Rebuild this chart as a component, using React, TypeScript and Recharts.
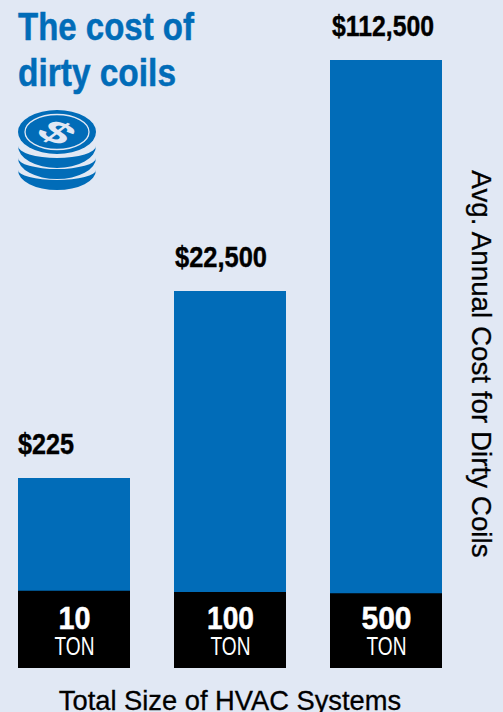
import React from "react";
import { BarChart, Bar, XAxis, YAxis, LabelList, Label } from "recharts";

const systemTons = ["10", "100", "500"];
const annualCost = [225, 22500, 112500];
const baseShare = [12.7, 12.5, 12.3];
const costLabels = ["$225", "$22,500", "$112,500"];
const titleLines = ["The cost of", "dirty coils"];

const rows = systemTons.map((tons, i) => ({
  tons,
  cost: annualCost[i],
  base: baseShare[i],
  costLabel: costLabels[i],
}));

const BLUE = "#016cb8";
const PAPER = "#e1e8f4";
const SANS = "'Liberation Sans', Arial, sans-serif";

// Condensed set widths for the headline type, in px per line.
const costLabelWidths: Record<string, number> = { "$225": 56, "$22,500": 92, "$112,500": 102 };
const costLabelInsets: Record<string, number> = { "$225": 0, "$22,500": 1, "$112,500": 2 };
const tonWidths: Record<string, number> = { "10": 32, "100": 47, "500": 50 };
const titleWidths = [176, 158];

// The cost axis is stepped rather than linear: each stop has its own share of the height.
const costStops = [0, 225, 22500, 112500];
const heightShares = [0, 0.3125, 0.62, 1];

function makeSteppedScale(dom: number[] = [0, 112500], rng: number[] = [0, 1]) {
  const scale: any = (v: number) => {
    let i = 0;
    while (i < costStops.length - 2 && v > costStops[i + 1]) i++;
    const t = (v - costStops[i]) / (costStops[i + 1] - costStops[i]);
    const share = heightShares[i] + t * (heightShares[i + 1] - heightShares[i]);
    return rng[0] + share * (rng[1] - rng[0]);
  };
  scale.domain = (d?: number[]) => {
    if (d) {
      dom = d;
      return scale;
    }
    return dom;
  };
  scale.range = (r?: number[]) => {
    if (r) {
      rng = r;
      return scale;
    }
    return rng;
  };
  scale.copy = () => makeSteppedScale(dom.slice(), rng.slice());
  scale.ticks = () => costStops;
  scale.tickFormat = () => (v: number) => String(v);
  return scale;
}

function CostLabel(props: any) {
  const { x, y, value } = props;
  return (
    <text
      x={x + costLabelInsets[value]}
      y={y - 24}
      fontFamily={SANS}
      fontWeight={700}
      fontSize={29}
      fill="#000"
      stroke="#000"
      strokeWidth={0.4}
      textLength={costLabelWidths[value]}
      lengthAdjust="spacingAndGlyphs"
    >
      {value}
    </text>
  );
}

function TonLabel(props: any) {
  const { x, y, width, value } = props;
  const cx = x + width / 2 + 0.5;
  return (
    <g textAnchor="middle" fill="#fff" fontFamily={SANS}>
      <text
        x={cx}
        y={628.5}
        fontWeight={700}
        fontSize={32}
        stroke="#fff"
        strokeWidth={0.5}
        textLength={tonWidths[value]}
        lengthAdjust="spacingAndGlyphs"
      >
        {value}
      </text>
      <text x={cx} y={655} fontSize={26.5} textLength={40} lengthAdjust="spacingAndGlyphs">
        TON
      </text>
    </g>
  );
}

function CoinStack() {
  return (
    <g fill={BLUE}>
      <ellipse cx={57} cy={132} rx={39} ry={22} />
      <ellipse cx={57} cy={132} rx={32} ry={17.5} fill="none" stroke={PAPER} strokeWidth={1.3} />
      <text
        transform="translate(57 132) scale(1 0.6) rotate(38) scale(1.25 1)"
        textAnchor="middle"
        y={17}
        fontFamily={SANS}
        fontWeight={700}
        fontSize={48}
        fill={PAPER}
      >
        $
      </text>
      <path d="M18 146 A39 22 0 0 0 96 146 A39 12 0 0 1 18 146 Z" />
      <path d="M18 158 A39 21 0 0 0 96 158 A39 11 0 0 1 18 158 Z" />
      <path d="M18 170 A39 20 0 0 0 96 170 A39 10 0 0 1 18 170 Z" />
    </g>
  );
}

export default function App() {
  return (
    <div style={{ position: "absolute", left: 0, top: 0, width: 503, height: 712, background: PAPER, overflow: "hidden" }}>
      <BarChart
        width={503}
        height={712}
        data={rows}
        margin={{ top: 60, right: 0, bottom: 0, left: -4 }}
        barGap={-112}
        barSize={112}
      >
        <XAxis dataKey="tons" axisLine={false} tickLine={false} tick={false} height={44}>
          <Label
            value="Total Size of HVAC Systems"
            position="insideBottom"
            offset={2}
            fontFamily={SANS}
            fontSize={27.3}
            fill="#000"
            stroke="#000"
            strokeWidth={0.3}
          />
        </XAxis>
        <YAxis
          yAxisId="cost"
          orientation="right"
          type="number"
          domain={[0, 112500]}
          scale={makeSteppedScale()}
          axisLine={false}
          tickLine={false}
          tick={false}
          width={39}
        >
          <Label
            value="Avg. Annual Cost for Dirty Coils"
            angle={90}
            position="center"
            dx={-1.5}
            fontFamily={SANS}
            fontSize={27.8}
            fill="#000"
            stroke="#000"
            strokeWidth={0.3}
          />
        </YAxis>
        <YAxis yAxisId="base" hide type="number" domain={[0, 100]} />
        <Bar yAxisId="cost" dataKey="cost" fill={BLUE} isAnimationActive={false}>
          <LabelList dataKey="costLabel" content={<CostLabel />} />
        </Bar>
        <Bar yAxisId="base" dataKey="base" fill="#000" isAnimationActive={false}>
          <LabelList dataKey="tons" content={<TonLabel />} />
        </Bar>
        <g>
          {titleLines.map((line, i) => (
            <text
              key={line}
              x={18}
              y={40 + i * 46}
              fontFamily={SANS}
              fontWeight={700}
              fontSize={39}
              fill={BLUE}
              stroke={BLUE}
              strokeWidth={0.5}
              textLength={titleWidths[i]}
              lengthAdjust="spacingAndGlyphs"
            >
              {line}
            </text>
          ))}
          <CoinStack />
        </g>
      </BarChart>
    </div>
  );
}
